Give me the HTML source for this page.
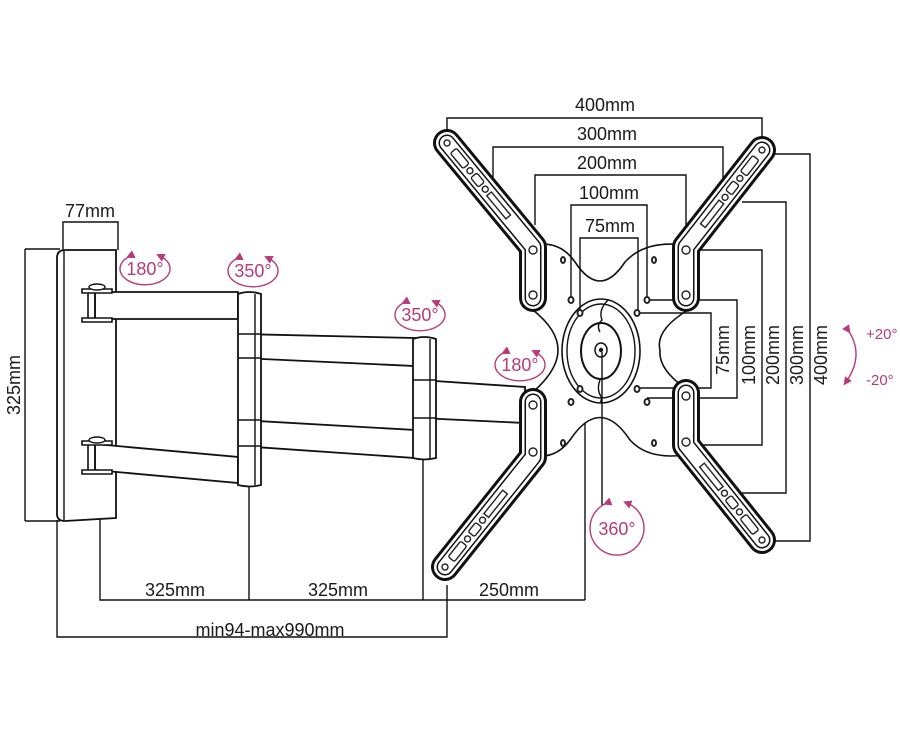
<!DOCTYPE html>
<html><head><meta charset="utf-8"><style>
html,body{margin:0;padding:0;background:#fff;}
svg{display:block;}
text{font-family:"Liberation Sans",sans-serif;fill:#1a1a1a;font-size:18px;}
.p{fill:#b83a78;font-size:18px;}
</style></head><body>
<svg width="900" height="737" viewBox="0 0 900 737" xmlns="http://www.w3.org/2000/svg">
<defs>
<marker id="ar" markerWidth="6" markerHeight="6" refX="3" refY="3" orient="auto"><path d="M0,0 L6,3 L0,6 z" fill="#b83a78"/></marker>
</defs>
<g fill="none" stroke="#111" stroke-width="1.4">
<path d="M25,249 H60 M25,521 H60 M25,249 V521"/>
<path d="M63,250 V222 H118 V250"/>
<path d="M100,475 V600 H585 M249,485 V600 M423,458 V600 M585,405 V600"/>
<path d="M57,520 V637 H447 V585"/>
<path d="M57,258 Q57,250 65,250 H116 V518 L65,521 Q57,521 57,514 Z" stroke-width="1.8" fill="#fff"/>
<path d="M64,251 V520" />
<path d="M95,292 H238 V319 H95 Z" fill="#fff" stroke-width="1.8"/>
<path d="M95,444 L238,457 V483 L95,470 Z" fill="#fff" stroke-width="1.8"/>
<path d="M82,289 H112 V293 H82Z M82,318 H112 V322 H82Z M88,293 V318 M95,293 V318" fill="#fff" stroke-width="1.6"/>
<path d="M82,441 H112 V445 H82Z M82,470 H112 V474 H82Z M88,445 V470 M95,445 V470" fill="#fff" stroke-width="1.6"/>
<ellipse cx="97" cy="287" rx="8" ry="3" fill="#fff"/>
<ellipse cx="97" cy="440" rx="8" ry="3" fill="#fff"/>
<path d="M240,334 L415,338 V366 L240,358 Z" fill="#fff" stroke-width="1.8"/>
<path d="M240,420 L415,430 V458 L240,446 Z" fill="#fff" stroke-width="1.8"/>
<path d="M420,380 L525,387 V423 L420,418 Z" fill="#fff" stroke-width="1.8"/>
<path d="M238,294 Q249,290 261,294 V485 Q249,488 238,485 Z" fill="#fff" stroke-width="1.8"/>
<path d="M238,334 H261 M238,358 H261 M238,420 H261 M238,446 H261 M255,294 V485"/>
<path d="M413,339 Q424,335 436,339 V458 Q424,461 413,458 Z" fill="#fff" stroke-width="1.8"/>
<path d="M413,380 H436 M413,418 H436 M430,339 V458"/>
<path d="M533,245 Q560,240 575,262 Q600,300 625,262 Q645,240 685,245 L688,310 Q655,330 660,350 Q658,370 688,390 L685,455 Q648,460 630,440 Q600,395 570,440 Q555,460 533,455 L533,392 Q558,370 558,350 Q558,330 533,310 Z" fill="#fff" stroke-width="1.6"/>
<ellipse cx="601" cy="351" rx="39" ry="52" stroke-width="1.6"/>
<ellipse cx="601" cy="351" rx="34" ry="47" stroke-width="1.4"/>
<ellipse cx="601" cy="351" rx="20" ry="28" stroke-width="2"/>
<ellipse cx="601" cy="350" rx="6" ry="7" stroke-width="1.5"/>
<circle cx="601" cy="350" r="1.5" fill="#222"/>
<path d="M608,300 Q598,310 602,320 Q596,325 600,332 M600,380 Q596,390 602,398 Q598,405 608,402"/>
<path d="M602,352 V505"/>
<path d="M447,135 V118 H762 V150"/>
<path d="M493,190 V147 H723 V195"/>
<path d="M535,225 V175 H686 V228"/>
<path d="M571,298 V205 H647 V298"/>
<path d="M580,310 V238 H638 V310"/>
<path d="M638,313 H711 V388 H638"/>
<path d="M647,300 H737 V398 H647"/>
<path d="M690,250 H762 V445 H690"/>
<path d="M742,202 H786 V493 H742"/>
<path d="M766,154 H810 V541 H766"/>
</g>
<g fill="#fff" stroke="#222" stroke-width="2">
<ellipse cx="563" cy="260" rx="2" ry="3"/><ellipse cx="654" cy="260" rx="2" ry="3"/>
<ellipse cx="571" cy="300" rx="2.5" ry="3"/><ellipse cx="647" cy="300" rx="2.5" ry="3"/>
<ellipse cx="580" cy="313" rx="2.5" ry="3"/><ellipse cx="637" cy="313" rx="2.5" ry="3"/>
<ellipse cx="580" cy="389" rx="2.5" ry="3"/><ellipse cx="637" cy="389" rx="2.5" ry="3"/>
<ellipse cx="571" cy="402" rx="2.5" ry="3"/><ellipse cx="647" cy="402" rx="2.5" ry="3"/>
<ellipse cx="563" cy="443" rx="2" ry="3"/><ellipse cx="654" cy="443" rx="2" ry="3"/>
</g>
<g fill="none" stroke-linecap="round" stroke-linejoin="round">
<g>
<path d="M447,143 L533,247 L533,298" stroke="#111" stroke-width="28"/>
<path d="M447,143 L533,247 L533,298" stroke="#fff" stroke-width="22"/>
<path d="M447,143 L533,247 L533,298" stroke="#111" stroke-width="17"/>
<path d="M447,143 L533,247 L533,298" stroke="#fff" stroke-width="14"/>
</g>
<g>
<path d="M762,150 L686,247 L686,298" stroke="#111" stroke-width="28"/>
<path d="M762,150 L686,247 L686,298" stroke="#fff" stroke-width="22"/>
<path d="M762,150 L686,247 L686,298" stroke="#111" stroke-width="17"/>
<path d="M762,150 L686,247 L686,298" stroke="#fff" stroke-width="14"/>
</g>
<g>
<path d="M445,567 L533,457 L533,402" stroke="#111" stroke-width="28"/>
<path d="M445,567 L533,457 L533,402" stroke="#fff" stroke-width="22"/>
<path d="M445,567 L533,457 L533,402" stroke="#111" stroke-width="17"/>
<path d="M445,567 L533,457 L533,402" stroke="#fff" stroke-width="14"/>
</g>
<g>
<path d="M762,540 L686,445 L686,393" stroke="#111" stroke-width="28"/>
<path d="M762,540 L686,445 L686,393" stroke="#fff" stroke-width="22"/>
<path d="M762,540 L686,445 L686,393" stroke="#111" stroke-width="17"/>
<path d="M762,540 L686,445 L686,393" stroke="#fff" stroke-width="14"/>
</g>
</g>
<g fill="none" stroke="#222" stroke-width="1.4">
<g transform="translate(447,143) rotate(50.4)"><circle cx="0" cy="0" r="3"/><rect x="10" y="-4" width="20" height="8" rx="2"/><circle cx="36" cy="0" r="3"/><rect x="42" y="-4" width="12" height="8" rx="2"/><circle cx="60" cy="0" r="3"/><rect x="66" y="-3" width="30" height="6"/></g>
<g transform="translate(762,150) rotate(128)"><circle cx="0" cy="0" r="3"/><rect x="10" y="-4" width="20" height="8" rx="2"/><circle cx="36" cy="0" r="3"/><rect x="42" y="-4" width="12" height="8" rx="2"/><circle cx="60" cy="0" r="3"/><rect x="66" y="-3" width="30" height="6"/></g>
<g transform="translate(445,567) rotate(-51.3)"><circle cx="0" cy="0" r="3"/><rect x="10" y="-4" width="20" height="8" rx="2"/><circle cx="36" cy="0" r="3"/><rect x="42" y="-4" width="12" height="8" rx="2"/><circle cx="60" cy="0" r="3"/><rect x="66" y="-3" width="30" height="6"/></g>
<g transform="translate(762,540) rotate(-128.7)"><circle cx="0" cy="0" r="3"/><rect x="10" y="-4" width="20" height="8" rx="2"/><circle cx="36" cy="0" r="3"/><rect x="42" y="-4" width="12" height="8" rx="2"/><circle cx="60" cy="0" r="3"/><rect x="66" y="-3" width="30" height="6"/></g>
<circle cx="533" cy="250" r="4"/><circle cx="533" cy="295" r="4"/>
<circle cx="686" cy="250" r="4"/><circle cx="686" cy="295" r="4"/>
<circle cx="533" cy="405" r="4"/><circle cx="533" cy="452" r="4"/>
<circle cx="686" cy="396" r="4"/><circle cx="686" cy="442" r="4"/>
</g>
<text x="90" y="217" text-anchor="middle">77mm</text>
<text transform="translate(20,385) rotate(-90)" text-anchor="middle">325mm</text>
<text x="605" y="111" text-anchor="middle">400mm</text>
<text x="607" y="140" text-anchor="middle">300mm</text>
<text x="607" y="169" text-anchor="middle">200mm</text>
<text x="609" y="199" text-anchor="middle">100mm</text>
<text x="610" y="232" text-anchor="middle">75mm</text>
<text transform="translate(729,350) rotate(-90)" text-anchor="middle">75mm</text>
<text transform="translate(755,355) rotate(-90)" text-anchor="middle">100mm</text>
<text transform="translate(779,355) rotate(-90)" text-anchor="middle">200mm</text>
<text transform="translate(803,355) rotate(-90)" text-anchor="middle">300mm</text>
<text transform="translate(827,355) rotate(-90)" text-anchor="middle">400mm</text>
<text x="175" y="596" text-anchor="middle">325mm</text>
<text x="338" y="596" text-anchor="middle">325mm</text>
<text x="509" y="596" text-anchor="middle">250mm</text>
<text x="270" y="636" text-anchor="middle">min94-max990mm</text>
<g fill="none" stroke="#b83a78" stroke-width="1.4">
<path d="M130,256 A25,16 0 1 0 160,256" marker-start="url(#ar)" marker-end="url(#ar)"/>
<path d="M238,258 A25,16 0 1 0 268,258" marker-start="url(#ar)" marker-end="url(#ar)"/>
<path d="M405,302 A25,16 0 1 0 435,302" marker-start="url(#ar)" marker-end="url(#ar)"/>
<path d="M505,352 A25,16 0 1 0 535,352" marker-start="url(#ar)" marker-end="url(#ar)"/>
<path d="M607,503 A27,27 0 1 0 627,503" marker-start="url(#ar)" marker-end="url(#ar)"/>
<path d="M848,330 Q865,355 846,382" marker-start="url(#ar)" marker-end="url(#ar)"/>
</g>
<text class="p" x="145" y="275" text-anchor="middle">180°</text>
<text class="p" x="253" y="277" text-anchor="middle">350°</text>
<text class="p" x="420" y="321" text-anchor="middle">350°</text>
<text class="p" x="520" y="371" text-anchor="middle">180°</text>
<text class="p" x="617" y="535" text-anchor="middle">360°</text>
<text class="p" x="866" y="339" style="font-size:15px">+20°</text>
<text class="p" x="866" y="385" style="font-size:15px">-20°</text>
</svg>
</body></html>
